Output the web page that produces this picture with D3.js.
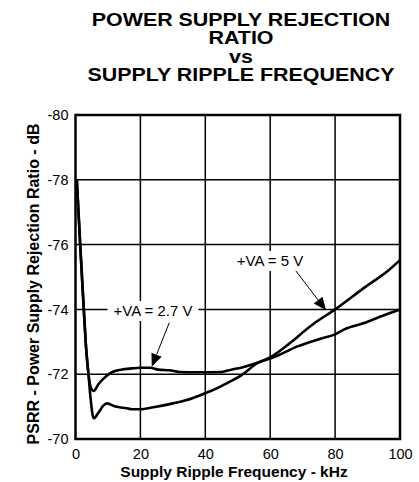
<!DOCTYPE html>
<html>
<head>
<meta charset="utf-8">
<script src="https://cdn.jsdelivr.net/npm/d3@7"></script>
<style>
  html, body { margin: 0; padding: 0; background: #fff; }
  svg { display: block; font-family: "Liberation Sans", Arial, Helvetica, sans-serif; }
</style>
</head>
<body>
<svg id="chart" width="419" height="482"></svg>
<script>
// ---- Data (frequency in kHz, PSRR in dB) ----
const titleLines = ["POWER SUPPLY REJECTION", "RATIO", "vs", "SUPPLY RIPPLE FREQUENCY"];
const xTicks = [0, 20, 40, 60, 80, 100];
const yTicks = [-80, -78, -76, -74, -72, -70];

const freq27 = [0.4, 1.5, 2.5, 3.2, 4.0, 4.7, 5.6, 7.0, 8.7, 11.2, 14.0, 17.4, 20, 23, 25.5, 29, 32, 38, 45, 48, 51, 56.3, 62, 68.2, 75, 80, 83, 88.7, 94, 100];
const psrr27 = [-78.0, -75.9, -74.1, -72.9, -72.0, -71.6, -71.48, -71.68, -71.87, -72.06, -72.14, -72.18, -72.2, -72.2, -72.14, -72.12, -72.07, -72.06, -72.07, -72.14, -72.2, -72.36, -72.56, -72.85, -73.08, -73.23, -73.39, -73.57, -73.78, -74.0];

const freq5 = [0.4, 1.5, 2.5, 3.2, 4.0, 4.6, 5.6, 7.0, 8.5, 9.7, 12.3, 15.8, 17.4, 19.9, 24, 30.1, 34.3, 39.9, 44.5, 47.6, 50.7, 56.3, 60, 66.6, 71.2, 73.3, 80, 88.7, 96.4, 100];
const psrr5 = [-78.0, -75.9, -74.1, -72.9, -72.0, -71.3, -70.64, -70.8, -71.02, -71.1, -71.0, -70.95, -70.92, -70.92, -70.98, -71.1, -71.2, -71.41, -71.61, -71.77, -71.94, -72.36, -72.52, -73.0, -73.39, -73.55, -74.0, -74.65, -75.2, -75.52];

const labels = [
  {text: "+VA = 2.7 V", lx: 153, ly: 316, fromF: 28.9, fromV: -73.59, toF: 23.5, toV: -72.23},
  {text: "+VA = 5 V",   lx: 270, ly: 266, fromF: 67.9, fromV: -75.19, toF: 77.2, toV: -73.97}
];

// ---- Layout ----
const svg = d3.select("#chart");
const pLeft = 75.5, pRight = 400, pTop = 115, pBottom = 439;
const x = d3.scaleLinear().domain([0, 100]).range([pLeft, pRight]);
const y = d3.scaleLinear().domain([-70, -80]).range([pBottom, pTop]);

// Title (slightly widened, like the original's wide bold face)
const titleG = svg.append("g").attr("transform", "translate(241,0) scale(1.19,1)");
const titleY = [26, 44.5, 63, 81.5];
titleLines.forEach((t, i) => {
  titleG.append("text")
    .attr("x", 0).attr("y", titleY[i])
    .attr("text-anchor", "middle")
    .attr("font-weight", "bold")
    .attr("font-size", "18px")
    .attr("fill", "#000")
    .text(t);
});

// Grid
const grid = svg.append("g").attr("stroke", "#000").attr("stroke-width", 1.5);
grid.selectAll("line.v").data(xTicks.slice(1, -1)).join("line")
  .attr("class", "v")
  .attr("x1", d => x(d)).attr("x2", d => x(d))
  .attr("y1", pTop).attr("y2", pBottom);
grid.selectAll("line.h").data(yTicks.slice(1, -1)).join("line")
  .attr("class", "h")
  .attr("x1", pLeft).attr("x2", pRight)
  .attr("y1", d => y(d)).attr("y2", d => y(d));

// Axes with D3 axis generators (tick labels)
const xAxis = d3.axisBottom(x).tickValues(xTicks).tickSize(0).tickPadding(7);
const gx = svg.append("g").attr("transform", `translate(0,${pBottom})`).call(xAxis);
gx.select(".domain").remove();
gx.selectAll("text").attr("font-size", "14.5px").attr("fill", "#000")
  .attr("font-family", "Liberation Sans, Arial, sans-serif").attr("dy", "0.9em");

const yAxis = d3.axisLeft(y).tickValues(yTicks).tickSize(0).tickPadding(7).tickFormat(d => String(d));
const gy = svg.append("g").attr("transform", `translate(${pLeft},0)`).call(yAxis);
gy.select(".domain").remove();
gy.selectAll("text").attr("font-size", "14.5px").attr("fill", "#000")
  .attr("font-family", "Liberation Sans, Arial, sans-serif");

// Curves
const line = d3.line()
  .x(d => x(d[0])).y(d => y(d[1]))
  .curve(d3.curveMonotoneX);
const series = [d3.zip(freq27, psrr27), d3.zip(freq5, psrr5)];
svg.append("g").selectAll("path").data(series).join("path")
  .attr("d", line)
  .attr("fill", "none")
  .attr("stroke", "#000")
  .attr("stroke-width", 2.6)
  .attr("stroke-linejoin", "round");

// Labels with white box and arrows
labels.forEach(l => {
  const g = svg.append("g");
  const rect = g.append("rect").attr("fill", "#fff");
  const t = g.append("text")
    .attr("x", l.lx).attr("y", l.ly)
    .attr("text-anchor", "middle")
    .attr("font-size", "15px")
    .attr("fill", "#000")
    .text(l.text);
  const bb = t.node().getBBox();
  rect.attr("x", bb.x - 6).attr("y", bb.y - 1)
    .attr("width", bb.width + 12).attr("height", bb.height + 3);

  const x1 = x(l.fromF), y1 = y(l.fromV), x2 = x(l.toF), y2 = y(l.toV);
  const ang = Math.atan2(y2 - y1, x2 - x1);
  const hl = 13, hw = 5.5;
  const bx = x2 - hl * Math.cos(ang), by = y2 - hl * Math.sin(ang);
  g.append("line")
    .attr("x1", x1).attr("y1", y1).attr("x2", bx).attr("y2", by)
    .attr("stroke", "#000").attr("stroke-width", 1);
  const px = -Math.sin(ang), py = Math.cos(ang);
  g.append("path")
    .attr("d", `M${x2},${y2}L${bx + px * hw},${by + py * hw}L${bx - px * hw},${by - py * hw}Z`)
    .attr("fill", "#000");
});

// Frame
svg.append("rect")
  .attr("x", pLeft).attr("y", pTop)
  .attr("width", pRight - pLeft).attr("height", pBottom - pTop)
  .attr("fill", "none").attr("stroke", "#000").attr("stroke-width", 2.5);

// Axis titles
svg.append("text")
  .attr("x", 234).attr("y", 477)
  .attr("text-anchor", "middle")
  .attr("font-weight", "bold").attr("font-size", "15.5px")
  .text("Supply Ripple Frequency - kHz");

svg.append("text")
  .attr("transform", "translate(39,284) rotate(-90)")
  .attr("text-anchor", "middle")
  .attr("font-weight", "bold").attr("font-size", "16px")
  .text("PSRR - Power Supply Rejection Ratio - dB");
</script>
</body>
</html>
